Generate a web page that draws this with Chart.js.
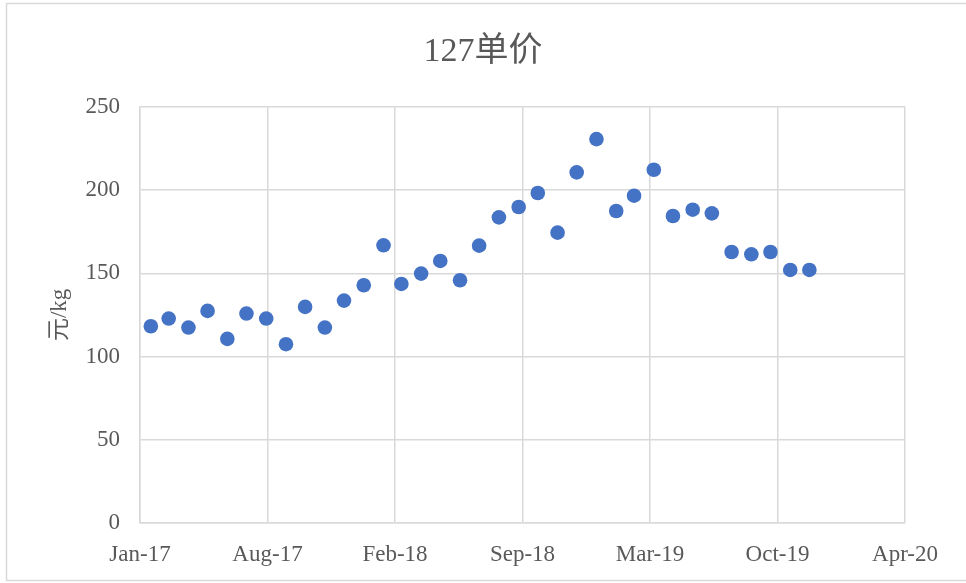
<!DOCTYPE html>
<html>
<head>
<meta charset="utf-8">
<script src="https://cdn.jsdelivr.net/npm/chart.js@4/dist/chart.umd.min.js"></script>
<style>
  html, body { margin: 0; padding: 0; background: #fff; }
  #wrap { width: 966px; height: 583px; }
</style>
</head>
<body>
<div id="wrap"><canvas id="priceChart"></canvas></div>
<script>
// chart text
var chartTitle = '127单价';
var yAxisTitle = '元/kg';

// monthly points (plotted at the last day of each month)
var months = [
    '2017-01', '2017-02', '2017-03', '2017-04', '2017-05', '2017-06',
    '2017-07', '2017-08', '2017-09', '2017-10', '2017-11', '2017-12',
    '2018-01', '2018-02', '2018-03', '2018-04', '2018-05', '2018-06',
    '2018-07', '2018-08', '2018-09', '2018-10', '2018-11', '2018-12',
    '2019-01', '2019-02', '2019-03', '2019-04', '2019-05', '2019-06',
    '2019-07', '2019-08', '2019-09', '2019-10', '2019-11'
];
var prices = [
    118.2, 122.8, 117.4, 127.4, 110.6, 125.8,
    122.8, 107.4, 129.8, 117.4, 133.6, 142.8,
    166.8, 143.6, 149.8, 157.4, 145.8, 166.6,
    183.6, 189.8, 198.2, 174.4, 210.6, 230.6,
    187.4, 196.6, 212.2, 184.4, 188.2, 186.0,
    162.8, 161.4, 162.8, 152.0, 152.0
];

// x axis ticks (dates), y axis ticks
var xTickDates = ['2017-01-14', '2017-08-02', '2018-02-18', '2018-09-06', '2019-03-25', '2019-10-11', '2020-04-28'];
var yTicks = [0, 50, 100, 150, 200, 250];

var monthNames = ['Jan', 'Feb', 'Mar', 'Apr', 'May', 'Jun', 'Jul', 'Aug', 'Sep', 'Oct', 'Nov', 'Dec'];
var DAY = 86400000;

function monthEnd(s) {
    var p = s.split('-');
    return Date.UTC(+p[0], +p[1], 0) / DAY;
}
function dayNum(s) {
    var p = s.split('-');
    return Date.UTC(+p[0], +p[1] - 1, +p[2]) / DAY;
}
function fmtDay(v) {
    var d = new Date(v * DAY);
    return monthNames[d.getUTCMonth()] + '-' + String(d.getUTCFullYear()).slice(2);
}

var xTickValues = xTickDates.map(dayNum);

var points = months.map(function (m, i) {
    return { x: monthEnd(m), y: prices[i] };
});

var serif = '"Liberation Serif", "Noto Sans CJK SC", serif';
var gray = '#595959';
var gridGray = '#d9d9d9';

// white background + light frame round the whole chart
var borderPlugin = {
    id: 'outerBorder',
    beforeDraw: function (chart) {
        var ctx = chart.ctx;
        ctx.save();
        ctx.fillStyle = '#fff';
        ctx.fillRect(0, 0, chart.width, chart.height);
        ctx.strokeStyle = gridGray;
        ctx.lineWidth = 1.5;
        ctx.strokeRect(6.5, 3.5, 990, 577);
        ctx.restore();
    }
};

var ctx = document.getElementById('priceChart').getContext('2d');

new Chart(ctx, {
    type: 'scatter',
    data: {
        datasets: [{
            label: chartTitle,
            data: points,
            backgroundColor: '#4472C4',
            borderColor: '#4472C4',
            borderWidth: 0,
            pointRadius: 7.3,
            pointHoverRadius: 7.3
        }]
    },
    options: {
        responsive: true,
        maintainAspectRatio: false,
        animation: false,
        layout: { padding: 0 },
        plugins: {
            legend: { display: false },
            tooltip: { enabled: false },
            title: {
                display: true,
                text: chartTitle,
                color: gray,
                font: { family: serif, size: 34, weight: 'normal', lineHeight: 1.2 },
                padding: { top: 32, bottom: 34 }
            }
        },
        scales: {
            x: {
                type: 'linear',
                min: xTickValues[0],
                max: xTickValues[xTickValues.length - 1],
                afterBuildTicks: function (scale) {
                    scale.ticks = xTickValues.map(function (v) { return { value: v }; });
                },
                afterFit: function (scale) { scale.height = 60; },
                grid: { color: gridGray, lineWidth: 1.5, drawTicks: false },
                border: { color: gridGray, width: 1.5 },
                ticks: {
                    color: gray,
                    padding: 18,
                    maxRotation: 0,
                    autoSkip: false,
                    font: { family: serif, size: 23 },
                    callback: function (v) { return fmtDay(v); }
                }
            },
            y: {
                min: yTicks[0],
                max: yTicks[yTicks.length - 1],
                afterFit: function (scale) { scale.width = 140; },
                grid: { color: gridGray, lineWidth: 1.5, drawTicks: false },
                border: { color: gridGray, width: 1.5 },
                ticks: {
                    color: gray,
                    padding: 20,
                    stepSize: yTicks[1] - yTicks[0],
                    font: { family: serif, size: 23 }
                },
                title: {
                    display: true,
                    text: yAxisTitle,
                    color: gray,
                    font: { family: serif, size: 23, weight: 'normal', lineHeight: 1.2 },
                    padding: { top: 46, bottom: 0 }
                }
            },
            // empty spacer on the right so the title stays centred on the whole chart
            yRight: {
                position: 'right',
                min: yTicks[0],
                max: yTicks[yTicks.length - 1],
                afterFit: function (scale) { scale.width = 61; },
                grid: { display: false, drawTicks: false },
                border: { display: false },
                ticks: { display: false }
            }
        }
    },
    plugins: [borderPlugin]
});
</script>
</body>
</html>
